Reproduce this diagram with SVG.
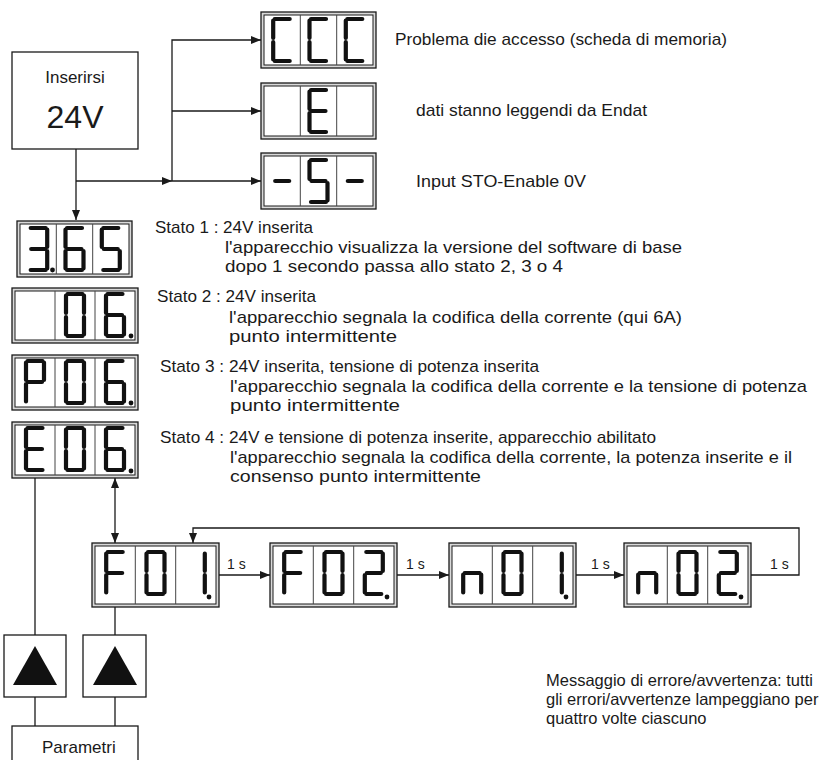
<svg xmlns="http://www.w3.org/2000/svg" xmlns:xlink="http://www.w3.org/1999/xlink" width="827" height="760" viewBox="0 0 827 760">
<style>
text{font-family:"Liberation Sans",Arial,sans-serif;fill:#1a1a1a}
.t17{font-size:17px}
.t14{font-size:14px}
.t16{font-size:16.5px}
.box{fill:#fff;stroke:#1a1a1a;stroke-width:1.3}
.outer{fill:#d9d9d9;stroke:#1a1a1a;stroke-width:1.3}
.inner{fill:#fff;stroke:#1a1a1a;stroke-width:1}
.div{stroke:#444;stroke-width:1}
.seg{fill:none;stroke:#111;stroke-width:4.2;stroke-linecap:round}
.con{fill:none;stroke:#1a1a1a;stroke-width:1.3}
.dot{fill:#111}
</style>
<defs>
<marker id="arr" markerUnits="userSpaceOnUse" markerWidth="10" markerHeight="8" refX="10" refY="4" orient="auto-start-reverse"><path d="M0,0L10,4L0,8z" fill="#1a1a1a"/></marker>
<path id="d0" class="seg" d="M1.5,0H16.5M18,1.5V19M18,23V40.5M1.5,42H16.5M0,23V40.5M0,1.5V19"/>
<path id="d1" class="seg" d="M18,1.5V19M18,23V40.5"/>
<path id="d2" class="seg" d="M1.5,0H16.5M18,1.5V19M2,21H16M0,23V40.5M1.5,42H16.5"/>
<path id="d3" class="seg" d="M1.5,0H16.5M18,1.5V19M2,21H16M18,23V40.5M1.5,42H16.5"/>
<path id="d5" class="seg" d="M1.5,0H16.5M0,1.5V19M2,21H16M18,23V40.5M1.5,42H16.5"/>
<path id="d6" class="seg" d="M1.5,0H16.5M0,1.5V19M2,21H16M0,23V40.5M1.5,42H16.5M18,23V40.5"/>
<path id="dC" class="seg" d="M1.5,0H16.5M0,1.5V19M0,23V40.5M1.5,42H16.5"/>
<path id="dE" class="seg" d="M1.5,0H16.5M0,1.5V19M2,21H16M0,23V40.5M1.5,42H16.5"/>
<path id="dF" class="seg" d="M1.5,0H16.5M0,1.5V19M2,21H16M0,23V40.5"/>
<path id="dP" class="seg" d="M1.5,0H16.5M18,1.5V19M0,1.5V19M2,21H16M0,23V40.5"/>
<path id="dn" class="seg" d="M0,22.5V40.5M1.5,21H16.5M18,22.5V40.5"/>
<path id="dm" class="seg" d="M2,21H16"/>
</defs>

<g id="connectors">
<path class="con" d="M76,149V220" marker-end="url(#arr)"/>
<path class="con" d="M76,181H172" marker-end="url(#arr)"/>
<path class="con" d="M172,181H261" marker-end="url(#arr)"/>
<path class="con" d="M172,181V40H261" marker-end="url(#arr)"/>
<path class="con" d="M172,111H261" marker-end="url(#arr)"/>
<path class="con" d="M115,478V543" marker-start="url(#arr)" marker-end="url(#arr)"/>
<path class="con" d="M35,478V635"/>
<path class="con" d="M115,607V635"/>
<path class="con" d="M35,697V726"/>
<path class="con" d="M115,697V726"/>
<path class="con" d="M219,575H270" marker-end="url(#arr)"/>
<path class="con" d="M397,575H449" marker-end="url(#arr)"/>
<path class="con" d="M576,575H624" marker-end="url(#arr)"/>
<path class="con" d="M751,575H799V528H193V543" marker-end="url(#arr)"/>
</g>

<g id="power">
<rect class="box" x="12" y="52" width="126" height="97"/>
<text class="t17" x="75" y="83" text-anchor="middle">Inserirsi</text>
<text x="75" y="128" text-anchor="middle" font-size="32">24V</text>
</g>

<g id="disp-ccc">
<rect class="outer" x="261" y="12" width="115" height="56"/>
<rect class="inner" x="264" y="15" width="109" height="50"/>
<path class="div" d="M300.3,15V65M336.7,15V65"/>
<use xlink:href="#dC" x="273.2" y="19"/><use xlink:href="#dC" x="309.5" y="19"/><use xlink:href="#dC" x="345.8" y="19"/>
</g>
<text class="t17" x="395" y="45" textLength="332" lengthAdjust="spacingAndGlyphs">Problema die accesso (scheda di memoria)</text>

<g id="disp-e">
<rect class="outer" x="261" y="83" width="115" height="56"/>
<rect class="inner" x="264" y="86" width="109" height="50"/>
<path class="div" d="M300.3,86V136M336.7,86V136"/>
<use xlink:href="#dE" x="309.5" y="90"/>
</g>
<text class="t17" x="416" y="116" textLength="231" lengthAdjust="spacingAndGlyphs">dati stanno leggendi da Endat</text>

<g id="disp-s">
<rect class="outer" x="261" y="153" width="115" height="56"/>
<rect class="inner" x="264" y="156" width="109" height="50"/>
<path class="div" d="M300.3,156V206M336.7,156V206"/>
<use xlink:href="#dm" x="273.2" y="160"/><use xlink:href="#d5" x="309.5" y="160"/><use xlink:href="#dm" x="345.8" y="160"/>
</g>
<text class="t17" x="416" y="187" textLength="170" lengthAdjust="spacingAndGlyphs">Input STO-Enable 0V</text>

<g id="state1">
<rect class="outer" x="17" y="221" width="115" height="56"/>
<rect class="inner" x="20" y="224" width="109" height="50"/>
<path class="div" d="M56.3,224V274M92.7,224V274"/>
<use xlink:href="#d3" x="29.2" y="228"/><use xlink:href="#d6" x="65.5" y="228"/><use xlink:href="#d5" x="101.8" y="228"/>
<circle class="dot" cx="52.5" cy="270" r="2.4"/>
</g>
<text class="t17" x="155" y="233" textLength="158" lengthAdjust="spacingAndGlyphs">Stato 1 : 24V inserita</text>
<text class="t17" x="225" y="253" textLength="457" lengthAdjust="spacingAndGlyphs">l'apparecchio visualizza la versione del software di base</text>
<text class="t17" x="225" y="272" textLength="338" lengthAdjust="spacingAndGlyphs">dopo 1 secondo passa allo stato 2, 3 o 4</text>

<g id="state2">
<rect class="outer" x="12" y="288" width="126" height="55"/>
<rect class="inner" x="15" y="291" width="120" height="49"/>
<path class="div" d="M55,291V340M95,291V340"/>
<use xlink:href="#d0" x="66" y="294"/><use xlink:href="#d6" x="106" y="294"/>
<circle class="dot" cx="131" cy="336" r="2.4"/>
</g>
<text class="t17" x="157" y="302" textLength="159" lengthAdjust="spacingAndGlyphs">Stato 2 : 24V inserita</text>
<text class="t17" x="229" y="323" textLength="453" lengthAdjust="spacingAndGlyphs">l'apparecchio segnala la codifica della corrente (qui 6A)</text>
<text class="t17" x="229" y="342" textLength="168" lengthAdjust="spacingAndGlyphs">punto intermittente</text>

<g id="state3">
<rect class="outer" x="12" y="355" width="126" height="55"/>
<rect class="inner" x="15" y="358" width="120" height="49"/>
<path class="div" d="M55,358V407M95,358V407"/>
<use xlink:href="#dP" x="26" y="361"/><use xlink:href="#d0" x="66" y="361"/><use xlink:href="#d6" x="106" y="361"/>
<circle class="dot" cx="131" cy="403" r="2.4"/>
</g>
<text class="t17" x="160" y="372" textLength="379" lengthAdjust="spacingAndGlyphs">Stato 3 : 24V inserita, tensione di potenza inserita</text>
<text class="t17" x="230" y="392" textLength="577" lengthAdjust="spacingAndGlyphs">l'apparecchio segnala la codifica della corrente e la tensione di potenza</text>
<text class="t17" x="230" y="411" textLength="170" lengthAdjust="spacingAndGlyphs">punto intermittente</text>

<g id="state4">
<rect class="outer" x="12" y="422" width="126" height="56"/>
<rect class="inner" x="15" y="425" width="120" height="50"/>
<path class="div" d="M55,425V475M95,425V475"/>
<use xlink:href="#dE" x="26" y="428"/><use xlink:href="#d0" x="66" y="428"/><use xlink:href="#d6" x="106" y="428"/>
<circle class="dot" cx="131" cy="471" r="2.4"/>
</g>
<text class="t17" x="160" y="443" textLength="496" lengthAdjust="spacingAndGlyphs">Stato 4 : 24V e tensione di potenza inserite, apparecchio abilitato</text>
<text class="t17" x="230" y="463" textLength="562" lengthAdjust="spacingAndGlyphs">l'apparecchio segnala la codifica della corrente, la potenza inserite e il</text>
<text class="t17" x="230" y="482" textLength="251" lengthAdjust="spacingAndGlyphs">consenso punto intermittente</text>

<g id="f01">
<rect class="outer" x="92" y="543" width="127" height="64"/>
<rect class="inner" x="95" y="546" width="121" height="58"/>
<path class="div" d="M135.3,546V604M175.7,546V604"/>
<use xlink:href="#dF" x="106.2" y="552"/><use xlink:href="#d0" x="146.5" y="552"/><use xlink:href="#d1" x="186.8" y="552"/>
<circle class="dot" cx="209" cy="597" r="2.4"/>
</g>
<g id="f02">
<rect class="outer" x="270" y="543" width="127" height="64"/>
<rect class="inner" x="273" y="546" width="121" height="58"/>
<path class="div" d="M313.3,546V604M353.7,546V604"/>
<use xlink:href="#dF" x="284.2" y="552"/><use xlink:href="#d0" x="324.5" y="552"/><use xlink:href="#d2" x="364.8" y="552"/>
<circle class="dot" cx="387" cy="597" r="2.4"/>
</g>
<g id="n01">
<rect class="outer" x="449" y="543" width="127" height="64"/>
<rect class="inner" x="452" y="546" width="121" height="58"/>
<path class="div" d="M492.3,546V604M532.7,546V604"/>
<use xlink:href="#dn" x="463.2" y="552"/><use xlink:href="#d0" x="503.5" y="552"/><use xlink:href="#d1" x="543.8" y="552"/>
<circle class="dot" cx="566" cy="597" r="2.4"/>
</g>
<g id="n02">
<rect class="outer" x="624" y="543" width="127" height="64"/>
<rect class="inner" x="627" y="546" width="121" height="58"/>
<path class="div" d="M667.3,546V604M707.7,546V604"/>
<use xlink:href="#dn" x="638.2" y="552"/><use xlink:href="#d0" x="678.5" y="552"/><use xlink:href="#d2" x="718.8" y="552"/>
<circle class="dot" cx="741" cy="597" r="2.4"/>
</g>
<g id="labels-1s">
<text class="t14" x="227" y="569">1 s</text>
<text class="t14" x="406" y="569">1 s</text>
<text class="t14" x="591" y="569">1 s</text>
<text class="t14" x="770" y="569">1 s</text>
</g>

<g id="note">
<text class="t16" x="546" y="686">Messaggio di errore/avvertenza: tutti</text>
<text class="t16" x="546" y="705">gli errori/avvertenze lampeggiano per</text>
<text class="t16" x="546" y="724">quattro volte ciascuno</text>
</g>

<g id="key-left">
<rect class="box" x="4" y="635" width="62" height="62"/>
<path d="M13,685L57,685L35,646z" fill="#111"/>
</g>
<g id="key-right">
<rect class="box" x="83" y="635" width="63" height="62"/>
<path d="M93,685L137,685L115,646z" fill="#111"/>
</g>
<g id="param">
<rect class="box" x="12" y="726" width="126" height="45"/>
<text class="t17" x="42" y="753">Parametri</text>
</g>
</svg>
